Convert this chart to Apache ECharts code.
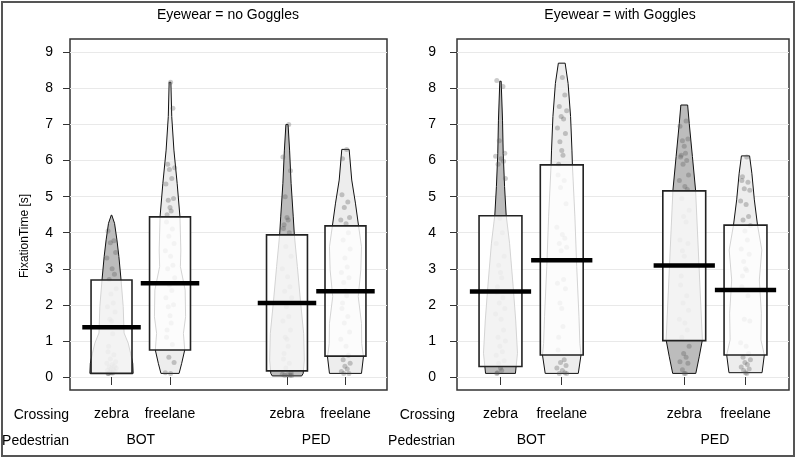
<!DOCTYPE html>
<html>
<head>
<meta charset="utf-8">
<script src="https://cdn.jsdelivr.net/npm/echarts@6.0.0/dist/echarts.min.js"></script>
<style>
  html, body { margin: 0; padding: 0; background: #fff; }
  #main { width: 800px; height: 459px; }
</style>
</head>
<body>
<div id="main"></div>
<script>
// axis labels
const yTicks = [0, 1, 2, 3, 4, 5, 6, 7, 8, 9];
const crossings = ['zebra', 'freelane', 'zebra', 'freelane'];
const crossingPos = [1, 2, 4, 5];
const pedestrians = ['BOT', 'PED'];
const pedestrianPos = [1.5, 4.5];
const eyewear = ['no Goggles', 'with Goggles'];

// mean bars (per group: BOT zebra, BOT freelane, PED zebra, PED freelane)
const meansNoGoggles = [1.38, 2.6, 2.05, 2.38];
const meansGoggles = [2.37, 3.24, 3.09, 2.41];

// inference bands (lower / upper)
const bandLowNoGoggles = [0.1, 0.75, 0.17, 0.58];
const bandHighNoGoggles = [2.69, 4.44, 3.94, 4.19];
const bandLowGoggles = [0.29, 0.61, 1.01, 0.61];
const bandHighGoggles = [4.47, 5.88, 5.16, 4.21];

// bean outlines: [value, relative density]
const beanNoBotZebra = [[0.1, 1.0], [0.38, 0.98], [0.66, 0.88], [0.94, 0.77], [1.22, 0.58], [1.95, 0.54], [2.69, 0.44], [3.34, 0.34], [3.8, 0.25], [4.26, 0.14], [4.49, 0.01]];
const beanNoBotFree = [[0.1, 0.42], [0.38, 0.54], [0.75, 0.68], [1.21, 0.62], [1.67, 0.72], [2.41, 0.7], [3.06, 0.48], [3.52, 0.5], [4.44, 0.46], [5.37, 0.33], [6.29, 0.18], [7.22, 0.08], [8.17, 0.04]];
const beanNoPedZebra = [[0.03, 0.68], [0.1, 0.75], [0.47, 0.8], [1.21, 0.77], [2.13, 0.62], [3.06, 0.48], [3.94, 0.34], [4.44, 0.29], [5.37, 0.19], [6.29, 0.12], [7.0, 0.05]];
const beanNoPedFree = [[0.1, 0.74], [0.56, 0.83], [0.93, 0.75], [1.49, 0.74], [2.23, 0.59], [2.97, 0.71], [3.61, 0.74], [4.21, 0.6], [4.82, 0.46], [5.46, 0.29], [6.31, 0.17]];
const beanGBotZebra = [[0.1, 0.66], [0.29, 0.69], [0.66, 0.75], [1.58, 0.67], [2.5, 0.56], [3.71, 0.4], [4.49, 0.25], [5.28, 0.18], [6.2, 0.12], [7.12, 0.09], [8.2, 0.03]];
const beanGBotFree = [[0.1, 0.73], [0.61, 0.85], [0.93, 0.8], [1.67, 0.76], [3.06, 0.66], [4.44, 0.58], [5.88, 0.47], [6.29, 0.45], [7.22, 0.39], [8.14, 0.28], [8.7, 0.15]];
const beanGPedZebra = [[0.1, 0.51], [0.56, 0.66], [1.03, 0.8], [2.41, 0.7], [3.8, 0.6], [5.18, 0.5], [6.11, 0.36], [7.03, 0.22], [7.54, 0.15]];
const beanGPedFree = [[0.12, 0.73], [0.61, 0.83], [1.03, 0.68], [1.77, 0.7], [2.69, 0.61], [3.52, 0.72], [4.21, 0.53], [4.91, 0.39], [5.65, 0.28], [6.13, 0.18]];

// raw fixation times
const ptsNoBotZebra = [4.05, 3.78, 3.72, 3.45, 3.3, 3.0, 2.85, 2.7, 2.45, 2.3, 2.05, 1.95, 1.8, 1.6, 1.55, 1.2, 0.85, 0.7, 0.62, 0.5, 0.42, 0.38, 0.35, 0.3, 0.28, 0.25, 0.22, 0.2, 0.18, 0.15, 0.14, 0.12, 0.11, 0.1, 0.1];
const ptsNoBotFree = [8.17, 7.45, 5.9, 5.8, 5.75, 5.5, 5.35, 4.95, 4.9, 4.7, 4.6, 4.5, 4.3, 4.1, 3.9, 3.7, 3.5, 3.35, 3.1, 3.0, 2.75, 2.55, 2.4, 2.2, 2.0, 1.95, 1.7, 1.5, 1.3, 1.1, 0.9, 0.55, 0.4, 0.12, 0.1];
const ptsNoPedZebra = [7.0, 6.1, 5.72, 5.0, 4.42, 4.35, 4.22, 4.12, 4.0, 3.62, 3.35, 3.0, 2.78, 2.5, 2.38, 2.2, 1.95, 1.68, 1.55, 1.3, 1.1, 1.05, 0.85, 0.65, 0.5, 0.38, 0.25, 0.12, 0.08, 0.06, 0.05, 0.05, 0.04];
const ptsNoPedFree = [6.31, 6.05, 5.05, 4.85, 4.7, 4.42, 4.35, 4.25, 4.0, 3.8, 3.55, 3.3, 3.05, 2.9, 2.75, 2.62, 2.4, 2.25, 2.05, 1.9, 1.68, 1.5, 1.25, 1.05, 0.85, 0.6, 0.48, 0.38, 0.3, 0.22, 0.15, 0.1, 0.1];
const ptsGBotZebra = [8.22, 8.05, 6.55, 6.2, 6.12, 6.05, 5.98, 5.9, 5.5, 4.4, 4.0, 3.7, 3.35, 3.1, 2.9, 2.75, 2.5, 2.35, 2.2, 2.05, 1.9, 1.75, 1.6, 1.3, 1.1, 1.0, 0.85, 0.7, 0.6, 0.45, 0.38, 0.25, 0.18, 0.12, 0.1];
const ptsGBotFree = [8.3, 7.82, 7.5, 7.38, 7.22, 7.15, 6.9, 6.75, 6.52, 6.28, 6.15, 5.9, 5.6, 5.45, 5.25, 4.8, 4.15, 3.95, 3.85, 3.7, 3.6, 3.5, 2.7, 2.6, 2.45, 2.05, 1.9, 1.4, 1.1, 0.75, 0.48, 0.4, 0.32, 0.25, 0.18, 0.12, 0.1, 0.1];
const ptsGPedZebra = [7.1, 6.95, 6.6, 6.55, 6.4, 6.2, 6.15, 6.1, 6.0, 5.9, 5.6, 5.45, 5.28, 5.2, 4.95, 4.62, 4.45, 4.3, 3.8, 3.7, 3.5, 3.35, 3.1, 2.8, 2.55, 2.25, 2.05, 1.85, 1.6, 1.5, 1.3, 1.1, 0.85, 0.65, 0.55, 0.42, 0.38, 0.2, 0.1, 0.1];
const ptsGPedFree = [6.1, 5.55, 5.45, 5.4, 5.22, 5.18, 4.88, 4.78, 4.45, 4.35, 4.2, 4.05, 3.8, 3.55, 3.4, 3.2, 3.0, 2.95, 2.8, 2.5, 2.25, 1.6, 1.55, 0.95, 0.85, 0.65, 0.55, 0.48, 0.4, 0.35, 0.28, 0.22, 0.18, 0.12, 0.1];

const panels = [
  { means: meansNoGoggles, low: bandLowNoGoggles, high: bandHighNoGoggles,
    beans: [beanNoBotZebra, beanNoBotFree, beanNoPedZebra, beanNoPedFree],
    points: [ptsNoBotZebra, ptsNoBotFree, ptsNoPedZebra, ptsNoPedFree] },
  { means: meansGoggles, low: bandLowGoggles, high: bandHighGoggles,
    beans: [beanGBotZebra, beanGBotFree, beanGPedZebra, beanGPedFree],
    points: [ptsGBotZebra, ptsGBotFree, ptsGPedZebra, ptsGPedFree] }
];

// horizontal jitter pattern for the points (axis units)
const jitter = [-0.06, 0.04, -0.02, 0.07, -0.08, 0.01, 0.05, -0.04, 0.08, -0.01, 0.03, -0.07, 0.06, -0.03, 0.0, 0.02, -0.05];

const BEAN_W = 0.37, BAND_W = 0.35, MEAN_W = 0.5;
const beanFill = ['#bcbcbc', '#ededed', '#bcbcbc', '#ededed'];
const idx = [[0], [1], [2], [3]];

let chart = echarts.init(document.getElementById('main'));

let grids = [
  { left: 70, right: 413, top: 39, bottom: 69 },
  { left: 457, right: 11, top: 39, bottom: 69 }
];
grids.forEach(g => { g.show = true; g.borderColor = '#333'; g.borderWidth = 1.5; g.containLabel = false; g.outerBoundsMode = 'none'; });

let xAxes = [], yAxes = [], series = [];
panels.forEach((pn, p) => {
  xAxes.push({
    gridIndex: p, type: 'value', min: 0.29, max: 5.71, position: 'bottom',
    axisLine: { show: false }, splitLine: { show: false },
    axisTick: { customValues: crossingPos, length: 8, lineStyle: { color: '#333' } },
    axisLabel: { customValues: crossingPos, margin: 17, fontSize: 14, color: '#000', fontFamily: 'Liberation Sans',
      formatter: v => crossings[crossingPos.indexOf(v)] }
  });
  xAxes.push({
    gridIndex: p, type: 'value', min: 0.29, max: 5.71, position: 'bottom',
    axisLine: { show: false }, splitLine: { show: false }, axisTick: { show: false },
    axisLabel: { customValues: pedestrianPos, margin: 43, fontSize: 14, color: '#000', fontFamily: 'Liberation Sans',
      formatter: v => pedestrians[pedestrianPos.indexOf(v)] }
  });
  yAxes.push({
    gridIndex: p, type: 'value', min: -0.36, max: 9.37,
    axisLine: { show: false },
    axisTick: { show: true, customValues: yTicks, length: 7, lineStyle: { color: '#333' } },
    axisLabel: { customValues: yTicks, margin: p === 0 ? 17 : 21, fontSize: 14, color: '#000', fontFamily: 'Liberation Sans' },
    splitLine: { show: true, lineStyle: { color: '#e9e9e9', width: 1 } }
  });

  let xi = p * 2;
  // beans
  series.push({
    type: 'custom', xAxisIndex: xi, yAxisIndex: p, z: 2, data: idx,
    renderItem: function (params, api) {
      let i = api.value(0), prof = pn.beans[i], cx = crossingPos[i];
      let right = prof.map(d => api.coord([cx + d[1] * BEAN_W, d[0]]));
      let left = prof.slice().reverse().map(d => api.coord([cx - d[1] * BEAN_W, d[0]]));
      return { type: 'polygon', shape: { points: right.concat(left) },
        style: { fill: beanFill[i], stroke: '#111', lineWidth: 1 } };
    }
  });
  // points
  let pts = [];
  pn.points.forEach((arr, i) => arr.forEach((v, k) => pts.push([crossingPos[i] + jitter[(k + i * 5) % jitter.length], v])));
  series.push({
    type: 'scatter', xAxisIndex: xi, yAxisIndex: p, z: 3, data: pts,
    symbolSize: 5, itemStyle: { color: 'rgba(85,85,85,0.38)' }, silent: true
  });
  // inference bands
  series.push({
    type: 'custom', xAxisIndex: xi, yAxisIndex: p, z: 4, data: idx,
    renderItem: function (params, api) {
      let i = api.value(0), cx = crossingPos[i];
      let a = api.coord([cx - BAND_W, pn.high[i]]), b = api.coord([cx + BAND_W, pn.low[i]]);
      return { type: 'rect', shape: { x: a[0], y: a[1], width: b[0] - a[0], height: b[1] - a[1] },
        style: { fill: 'rgba(255,255,255,0.82)', stroke: '#222', lineWidth: 1.6 } };
    }
  });
  // means
  series.push({
    type: 'custom', xAxisIndex: xi, yAxisIndex: p, z: 5, data: idx,
    renderItem: function (params, api) {
      let i = api.value(0), cx = crossingPos[i];
      let a = api.coord([cx - MEAN_W, pn.means[i]]), b = api.coord([cx + MEAN_W, pn.means[i]]);
      return { type: 'line', shape: { x1: a[0], y1: a[1], x2: b[0], y2: b[1] },
        style: { stroke: '#000', lineWidth: 4.5 } };
    }
  });
});

const txt = { fontSize: 14, fill: '#000', fontFamily: 'Liberation Sans' };
let graphics = [
  { type: 'rect', shape: { x: 2, y: 2, width: 792, height: 454 }, style: { fill: 'none', stroke: '#555', lineWidth: 2 }, z: 10 },
  { type: 'text', x: 228, y: 15, style: Object.assign({ text: 'Eyewear = ' + eyewear[0], textAlign: 'center', textVerticalAlign: 'middle' }, txt) },
  { type: 'text', x: 620, y: 15, style: Object.assign({ text: 'Eyewear = ' + eyewear[1], textAlign: 'center', textVerticalAlign: 'middle' }, txt) },
  { type: 'text', x: 25, y: 236, rotation: Math.PI / 2,
    style: { text: 'FixationTime [s]', fontSize: 12, fill: '#000', fontFamily: 'Liberation Sans', textAlign: 'center', textVerticalAlign: 'middle' } }
];
[69, 455].forEach(x => {
  graphics.push({ type: 'text', x: x, y: 415, style: Object.assign({ text: 'Crossing', textAlign: 'right', textVerticalAlign: 'middle' }, txt) });
  graphics.push({ type: 'text', x: x, y: 441, style: Object.assign({ text: 'Pedestrian', textAlign: 'right', textVerticalAlign: 'middle' }, txt) });
});

chart.setOption({
  animation: false,
  grid: grids,
  xAxis: xAxes,
  yAxis: yAxes,
  series: series,
  graphic: graphics
});
</script>
</body>
</html>
